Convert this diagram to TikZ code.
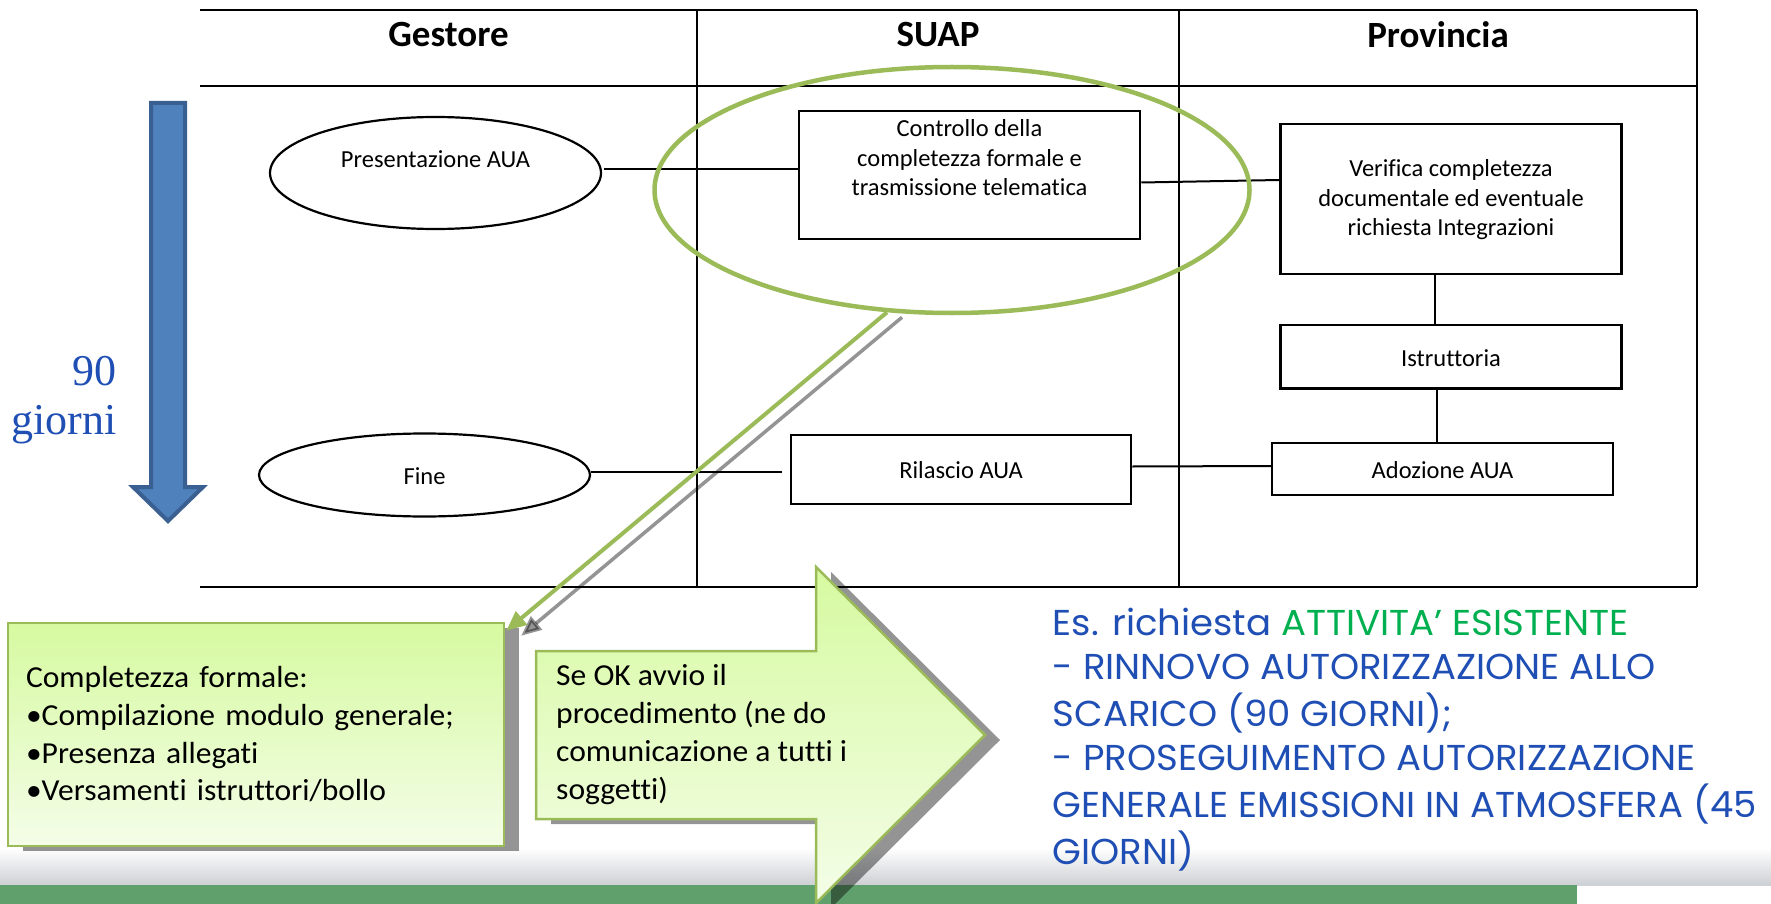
\documentclass[tikz,border=0pt]{standalone}
\usepackage{fontspec}
\setmainfont{Carlito}[RawFeature={-liga}]
\newfontfamily\boxfont{Carlito}[RawFeature={-liga}, FakeStretch=1.035]
\newfontfamily\gothic{Poppins}[FakeStretch=1.03]
\newfontfamily\serifx{Liberation Serif}
\usetikzlibrary{arrows.meta,shapes.geometric,calc}
\definecolor{olive}{RGB}{155,187,89}
\definecolor{gtop}{RGB}{214,250,160}
\definecolor{gbot}{RGB}{244,253,232}
\definecolor{tblue}{RGB}{31,78,180}
\definecolor{tgreen}{RGB}{0,176,80}
\definecolor{arrblue}{RGB}{79,129,189}
\definecolor{arrdark}{RGB}{58,96,145}
\definecolor{footgreen}{RGB}{96,160,108}
\definecolor{footgray}{RGB}{205,208,212}
\begin{document}
\begin{tikzpicture}[x=1pt,y=-1pt,
  tline/.style={line width=2.4pt, black},
  conn/.style={line width=2pt, black},
  procbox/.style={draw=black, line width=2.5pt, rectangle, inner sep=0pt},
  procell/.style={draw=black, line width=2.2pt, ellipse, inner sep=0pt},
  ptxt/.style={font=\fontsize{24.5}{29.5}\selectfont, align=center, inner sep=0pt},
  hdr/.style={font=\bfseries\fontsize{37}{44}\selectfont, inner sep=0pt},
  gbox/.style={draw=olive, line width=2.5pt, top color=gtop, bottom color=gbot},
  btxt/.style={font=\boxfont\fontsize{30.5}{37.7}\selectfont, align=left},
  shadowfill/.style={fill=black, fill opacity=0.42},
  shadowline/.style={draw=black, opacity=0.42, line width=3.5pt},
]
\useasboundingbox (0,0) rectangle (1771,904);
% footer
\shade[top color=white, bottom color=footgray] (0,848) rectangle (1771,885);
\fill[footgreen] (0,885) rectangle (1577,904);
% table
\draw[tline] (200,10) -- (1697,10);
\draw[tline] (200,86) -- (1697,86);
\draw[tline] (200,587) -- (1697,587);
\draw[tline] (697,10) -- (697,587);
\draw[tline] (1179,10) -- (1179,587);
\draw[tline] (1697,10) -- (1697,587);
\node[hdr] (hgest) at (448.5,35) {Gestore};
\node[hdr] (hsuap) at (938,35) {SUAP};
\node[hdr] (hprov) at (1438,35) {Provincia};
% blue time arrow
\draw[draw=arrdark, fill=arrblue, line width=4pt]
  (151,103) -- (185,103) -- (185,487) -- (203,487) -- (168,521) -- (133,487) -- (151,487) -- cycle;
\node[anchor=east, align=right, inner sep=0pt, text=tblue, font=\serifx\fontsize{44}{49}\selectfont] (giorni) at (117,400) {90\\giorni};
% process nodes
\node[procell, minimum width=331, minimum height=112] (pres) at (435.5,173) {};
\node[ptxt] (prestxt) at (435.5,159) {Presentazione AUA};
\node[procell, minimum width=331, minimum height=83] (fine) at (424.5,475) {};
\node[ptxt] (finetxt) at (424.5,476) {Fine};
\node[procbox, minimum width=341, minimum height=128] (ctrl) at (969.5,175) {};
\node[ptxt] (ctrltxt) at (969.5,158) {Controllo della\\completezza formale e\\trasmissione telematica};
\node[procbox, minimum width=341, minimum height=150] (ver) at (1451,199) {};
\node[ptxt] (vertxt) at (1451,200) {Verifica completezza\\documentale ed eventuale\\richiesta Integrazioni};
\node[procbox, minimum width=341, minimum height=63.5] (istr) at (1451,356.75) {};
\node[ptxt] (istrtxt) at (1451,358) {Istruttoria};
\node[procbox, minimum width=341, minimum height=52] (adoz) at (1442.5,469) {};
\node[ptxt] (adoztxt) at (1442.5,470) {Adozione AUA};
\node[procbox, minimum width=340, minimum height=69] (ril) at (961,469.5) {};
\node[ptxt] (riltxt) at (961,470) {Rilascio AUA};
% connectors
\draw[conn] ($(pres.east)+(2,-4)$) -- ($(ctrl.west |- pres.east)+(0,-4)$);
\draw[conn] ($(ctrl.east)+(0,7.5)$) -- ($(ver.west)+(0,-19)$);
\draw[conn] ($(ver.south)+(-16,0)$) -- ($(istr.north)+(-16,0)$);
\draw[conn] ($(istr.south)+(-14,0)$) -- ($(adoz.north)+(-5.5,0)$);
\draw[conn] ($(ril.east)+(0,-3)$) -- ($(adoz.west)+(0,-3)$);
\draw[conn] ($(fine.east)+(0,-3)$) -- ($(ril.west |- fine.east)+(-8,-3)$);
% highlight ellipse
\node[draw=olive, line width=4.5pt, ellipse, minimum width=595, minimum height=246, inner sep=0pt] (hl) at (952,190) {};
% box 1
\fill[shadowfill] (23,628) rectangle (519,851);
\node[gbox, minimum width=496, minimum height=223, text width=460, inner xsep=18pt, btxt] (box1) at (256,734.5)
  {Completezza formale:\\\textbullet Compilazione modulo generale;\\\textbullet Presenza allegati\\\textbullet Versamenti istruttori/bollo};
% callout line
\draw[shadowline, -{Triangle[length=20pt,width=17pt]}] ($(hl.242)+(15,5)$) -- ($(box1.north east)+(16,14)$);
\draw[olive, line width=4pt, -{Triangle[length=20pt,width=17pt]}] (hl.242) -- ($(box1.north east)+(1,9)$);
% block arrow
\fill[shadowfill, shift={(15,5)}] (536,651) -- (816,651) -- (816,567) -- (985,735) -- (816,903) -- (816,819) -- (536,819) -- cycle;
\draw[draw=olive, line width=2.5pt, top color=gtop, bottom color=gbot]
  (536,651) -- (816,651) -- (816,567) -- (985,735) -- (816,903) -- (816,819) -- (536,819) -- cycle;
\node[btxt, anchor=west, inner sep=0pt] (arrtxt) at (556,734.5)
  {Se OK avvio il\\procedimento (ne do\\comunicazione a tutti i\\soggetti)};
% note
\node[anchor=base west, inner sep=0pt, text=tblue, font=\gothic\fontsize{36}{44.4}\selectfont] (note) at (1052.6,635)
  {\begin{tabular}[t]{@{}l@{}}Es. richiesta \textcolor{tgreen}{ATTIVITA’ ESISTENTE}\\
  - RINNOVO AUTORIZZAZIONE ALLO\\
  SCARICO (90 GIORNI);\\
  - PROSEGUIMENTO AUTORIZZAZIONE\\
  GENERALE EMISSIONI IN ATMOSFERA (45\\
  GIORNI)\end{tabular}};
\end{tikzpicture}
\end{document}
